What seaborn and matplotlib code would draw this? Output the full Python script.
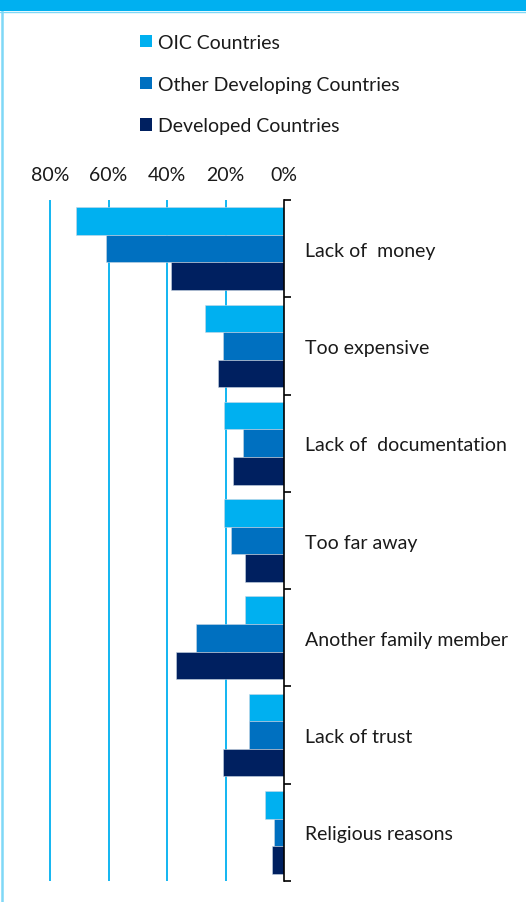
import matplotlib
matplotlib.use("Agg")
import matplotlib.pyplot as plt
import matplotlib.patches as mpatches
import matplotlib.lines as mlines
import numpy as np
import pandas as pd
import seaborn as sns

reasons = ["Lack of  money", "Too expensive", "Lack of  documentation", "Too far away",
           "Another family member", "Lack of trust", "Religious reasons"]
groups = ["OIC Countries", "Other Developing Countries", "Developed Countries"]
oic = [71, 27, 20.5, 20.5, 13.5, 12, 6.5]
other_dev = [61, 21, 14, 18, 30, 12, 3.5]
developed = [38.5, 22.5, 17.5, 13.5, 37, 21, 4]
x_ticks = [0, 20, 40, 60, 80]
x_tick_labels = ["0%", "20%", "40%", "60%", "80%"]

colors = ["#00B0F0", "#0070C0", "#002060"]

df = pd.DataFrame({
    "reason": reasons * 3,
    "group": [groups[0]] * 7 + [groups[1]] * 7 + [groups[2]] * 7,
    "share": oic + other_dev + developed,
})

sns.set_theme(style="white")
plt.rcParams["font.family"] = ["Lato", "DejaVu Sans"]
FS = 14

W, H = 526, 903
fig = plt.figure(figsize=(W / 100, H / 100), dpi=100)
fig.patch.set_facecolor("white")

# axes placed in pixel terms: zero line at x=284, top at y=201, bottom at y=882
x0_px, x_scale = 284.0, 2.925
xmax = 85
left_px = x0_px - xmax * x_scale
ax = fig.add_axes([left_px / W, (H - 882) / H, (x0_px - left_px) / W, (882 - 201) / H])
ax.set_facecolor("white")

sns.barplot(data=df, y="reason", x="share", hue="group", order=reasons,
            hue_order=groups, palette=colors, saturation=1, orient="h", width=0.85,
            edgecolor="#c8d6e4", linewidth=0.4, legend=False, ax=ax)

ax.set_xlim(xmax, 0)
ax.set_ylim(len(reasons) - 0.5, -0.5)

# vertical gridlines
for v in x_ticks[1:]:
    ax.axvline(v, color="#00B0F0", lw=1.3, zorder=0)

# top tick labels
ax.xaxis.tick_top()
ax.set_xticks(x_ticks)
ax.set_xticklabels(x_tick_labels, fontsize=FS, color="#1a1a1a")
ax.tick_params(axis="x", length=0, pad=12)
ax.set_xlabel("")
ax.set_ylabel("")

# right-hand category axis
ax.yaxis.tick_right()
ax.set_yticks(range(len(reasons)))
ax.set_yticklabels(reasons, fontsize=FS, color="#1a1a1a")
ax.set_yticks(np.arange(-0.5, len(reasons), 1.0), minor=True)
ax.tick_params(axis="y", which="major", length=0, pad=15, right=True, left=False)
ax.tick_params(axis="y", which="minor", length=5, width=1.2, color="black",
               direction="out", right=True, left=False)
for s in ["top", "bottom", "left"]:
    ax.spines[s].set_visible(False)
ax.spines["right"].set_visible(True)
ax.spines["right"].set_color("black")
ax.spines["right"].set_linewidth(1.2)
ax.grid(False)

# legend
handles = [mpatches.Patch(facecolor=c, edgecolor="none", label=g) for c, g in zip(colors, groups)]
leg = fig.legend(handles=handles, loc="upper left", bbox_to_anchor=(140 / W, 1 - 35 / H),
                 frameon=False, fontsize=FS, handlelength=0.62, handleheight=0.62,
                 handletextpad=0.3, labelspacing=1.27, borderpad=0, borderaxespad=0)
for t in leg.get_texts():
    t.set_color("#1a1a1a")

# top band and left frame line
fig.patches.append(mpatches.Rectangle((0, 1 - 12 / H), 1, 12 / H, transform=fig.transFigure,
                                      facecolor="#00B0F0", edgecolor="none", zorder=5))
fig.lines.append(mlines.Line2D([0, 1], [1 - 12.5 / H, 1 - 12.5 / H], transform=fig.transFigure,
                               color="#7fd8f7", lw=1.0))
fig.lines.append(mlines.Line2D([1.5 / W, 1.5 / W], [0, 1 - 12 / H], transform=fig.transFigure,
                               color="#7fd8f7", lw=1.8))

fig.savefig("out.png", dpi=100, facecolor="white")
